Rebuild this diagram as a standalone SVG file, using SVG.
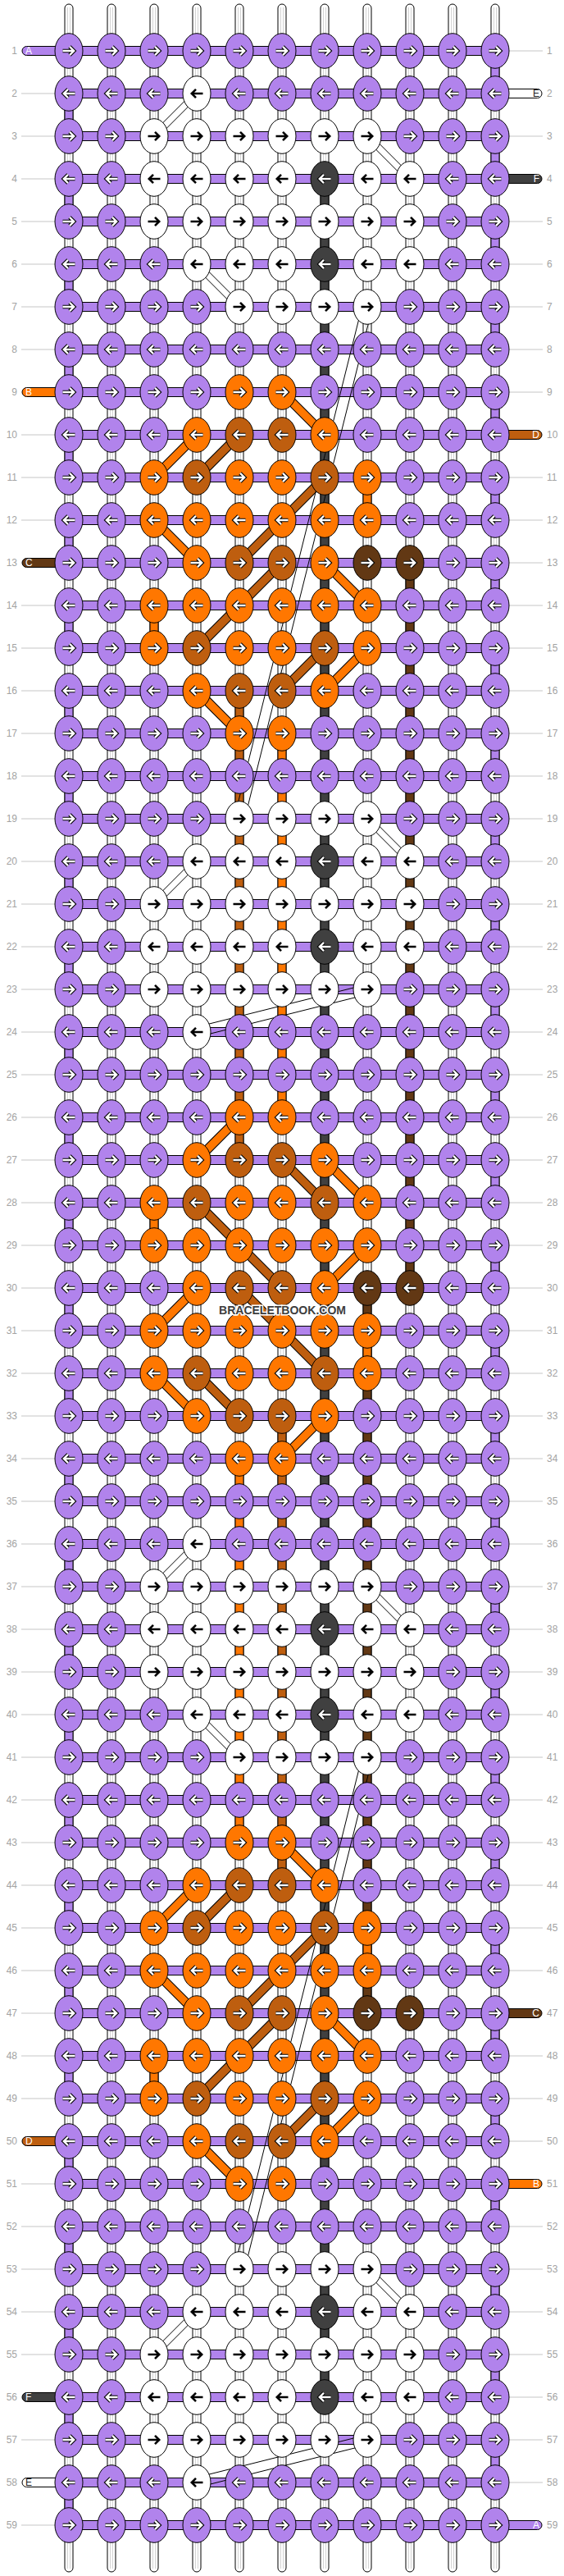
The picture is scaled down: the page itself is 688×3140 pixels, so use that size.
<svg xmlns="http://www.w3.org/2000/svg" width="688" height="3140" viewBox="0 0 688 3140">
<defs>
<style>
.n{font-family:"Liberation Sans",Arial,sans-serif;font-size:12px;fill:#a3a3a3}
.ne{text-anchor:end}
.gl{stroke:#c6c6c6;stroke-width:1;fill:none}
.tub{fill:#fff;stroke:#000;stroke-width:1}
.cl{stroke:#d2d2d2;stroke-width:1;fill:none}
.s{stroke:#000;stroke-width:1}
.P{fill:#b183ec}.W{fill:#fff}.G{fill:#404040}.O{fill:#ff7700}.B{fill:#be5e0f}.D{fill:#623814}
.lt{font-family:"Liberation Sans",Arial,sans-serif;font-size:12px;fill:#fff}
.ld{font-family:"Liberation Sans",Arial,sans-serif;font-size:12px;fill:#222}
.bk{fill:none;stroke:#000;stroke-width:11.5}
.dO{fill:none;stroke:#ff7700;stroke-width:9.5}
.dB{fill:none;stroke:#be5e0f;stroke-width:9.5}
.thin{fill:none;stroke:#000;stroke-width:1}
</style>
<path id="ar" d="M-7.5,0H6M1,-5.2L6.2,0L1,5.2" fill="none"/>
<g id="awr"><use href="#ar" stroke="#000" stroke-width="4.6"/><use href="#ar" stroke="#fff" stroke-width="2.4"/></g>
<g id="awl"><use href="#awr" transform="scale(-1,1)"/></g>
<g id="abr"><use href="#ar" stroke="#000" stroke-width="2.6"/></g>
<g id="abl"><use href="#abr" transform="scale(-1,1)"/></g>
<ellipse id="el" rx="17" ry="21.3"/>
<g id="Pr"><use href="#el" class="P s"/><use href="#awr"/></g>
<g id="Pl"><use href="#el" class="P s"/><use href="#awl"/></g>
<g id="Wr"><use href="#el" class="W s"/><use href="#abr"/></g>
<g id="Wl"><use href="#el" class="W s"/><use href="#abl"/></g>
<g id="Gl"><use href="#el" class="G s"/><use href="#awl"/></g>
<g id="Or"><use href="#el" class="O s"/><use href="#awr"/></g>
<g id="Ol"><use href="#el" class="O s"/><use href="#awl"/></g>
<g id="Br"><use href="#el" class="B s"/><use href="#awr"/></g>
<g id="Bl"><use href="#el" class="B s"/><use href="#awl"/></g>
<g id="Dr"><use href="#el" class="D s"/><use href="#awr"/></g>
<g id="Dl"><use href="#el" class="D s"/><use href="#awl"/></g>
</defs>
<rect width="688" height="3140" fill="#fff"/>
<g id="labels">
<path class="gl" d="M26,114H67M26,166H67M26,218H67M26,270H67M26,322H67M26,374H67M26,426H67M26,530H67M26,582H67M26,634H67M26,738H67M26,790H67M26,842H67M26,894H67M26,946H67M26,998H67M26,1050H67M26,1102H67M26,1154H67M26,1206H67M26,1258H67M26,1310H67M26,1362H67M26,1414H67M26,1466H67M26,1518H67M26,1570H67M26,1622H67M26,1674H67M26,1726H67M26,1778H67M26,1830H67M26,1882H67M26,1934H67M26,1986H67M26,2038H67M26,2090H67M26,2142H67M26,2194H67M26,2246H67M26,2298H67M26,2350H67M26,2402H67M26,2454H67M26,2506H67M26,2558H67M26,2662H67M26,2714H67M26,2766H67M26,2818H67M26,2870H67M26,2974H67M26,3078H67"/>
<path class="gl" d="M621,62H662M621,166H662M621,270H662M621,322H662M621,374H662M621,426H662M621,478H662M621,582H662M621,634H662M621,686H662M621,738H662M621,790H662M621,842H662M621,894H662M621,946H662M621,998H662M621,1050H662M621,1102H662M621,1154H662M621,1206H662M621,1258H662M621,1310H662M621,1362H662M621,1414H662M621,1466H662M621,1518H662M621,1570H662M621,1622H662M621,1674H662M621,1726H662M621,1778H662M621,1830H662M621,1882H662M621,1934H662M621,1986H662M621,2038H662M621,2090H662M621,2142H662M621,2194H662M621,2246H662M621,2298H662M621,2350H662M621,2402H662M621,2506H662M621,2558H662M621,2610H662M621,2714H662M621,2766H662M621,2818H662M621,2870H662M621,2922H662M621,2974H662M621,3026H662"/>
<g class="n ne">
<text x="21" y="66">1</text><text x="21" y="118">2</text><text x="21" y="170">3</text><text x="21" y="222">4</text><text x="21" y="274">5</text><text x="21" y="326">6</text><text x="21" y="378">7</text><text x="21" y="430">8</text><text x="21" y="482">9</text><text x="21" y="534">10</text><text x="21" y="586">11</text><text x="21" y="638">12</text><text x="21" y="690">13</text><text x="21" y="742">14</text><text x="21" y="794">15</text><text x="21" y="846">16</text><text x="21" y="898">17</text><text x="21" y="950">18</text><text x="21" y="1002">19</text><text x="21" y="1054">20</text><text x="21" y="1106">21</text><text x="21" y="1158">22</text><text x="21" y="1210">23</text><text x="21" y="1262">24</text><text x="21" y="1314">25</text><text x="21" y="1366">26</text><text x="21" y="1418">27</text><text x="21" y="1470">28</text><text x="21" y="1522">29</text><text x="21" y="1574">30</text><text x="21" y="1626">31</text><text x="21" y="1678">32</text><text x="21" y="1730">33</text><text x="21" y="1782">34</text><text x="21" y="1834">35</text><text x="21" y="1886">36</text><text x="21" y="1938">37</text><text x="21" y="1990">38</text><text x="21" y="2042">39</text><text x="21" y="2094">40</text><text x="21" y="2146">41</text><text x="21" y="2198">42</text><text x="21" y="2250">43</text><text x="21" y="2302">44</text><text x="21" y="2354">45</text><text x="21" y="2406">46</text><text x="21" y="2458">47</text><text x="21" y="2510">48</text><text x="21" y="2562">49</text><text x="21" y="2614">50</text><text x="21" y="2666">51</text><text x="21" y="2718">52</text><text x="21" y="2770">53</text><text x="21" y="2822">54</text><text x="21" y="2874">55</text><text x="21" y="2926">56</text><text x="21" y="2978">57</text><text x="21" y="3030">58</text><text x="21" y="3082">59</text>
</g>
<g class="n">
<text x="667" y="66">1</text><text x="667" y="118">2</text><text x="667" y="170">3</text><text x="667" y="222">4</text><text x="667" y="274">5</text><text x="667" y="326">6</text><text x="667" y="378">7</text><text x="667" y="430">8</text><text x="667" y="482">9</text><text x="667" y="534">10</text><text x="667" y="586">11</text><text x="667" y="638">12</text><text x="667" y="690">13</text><text x="667" y="742">14</text><text x="667" y="794">15</text><text x="667" y="846">16</text><text x="667" y="898">17</text><text x="667" y="950">18</text><text x="667" y="1002">19</text><text x="667" y="1054">20</text><text x="667" y="1106">21</text><text x="667" y="1158">22</text><text x="667" y="1210">23</text><text x="667" y="1262">24</text><text x="667" y="1314">25</text><text x="667" y="1366">26</text><text x="667" y="1418">27</text><text x="667" y="1470">28</text><text x="667" y="1522">29</text><text x="667" y="1574">30</text><text x="667" y="1626">31</text><text x="667" y="1678">32</text><text x="667" y="1730">33</text><text x="667" y="1782">34</text><text x="667" y="1834">35</text><text x="667" y="1886">36</text><text x="667" y="1938">37</text><text x="667" y="1990">38</text><text x="667" y="2042">39</text><text x="667" y="2094">40</text><text x="667" y="2146">41</text><text x="667" y="2198">42</text><text x="667" y="2250">43</text><text x="667" y="2302">44</text><text x="667" y="2354">45</text><text x="667" y="2406">46</text><text x="667" y="2458">47</text><text x="667" y="2510">48</text><text x="667" y="2562">49</text><text x="667" y="2614">50</text><text x="667" y="2666">51</text><text x="667" y="2718">52</text><text x="667" y="2770">53</text><text x="667" y="2822">54</text><text x="667" y="2874">55</text><text x="667" y="2926">56</text><text x="667" y="2978">57</text><text x="667" y="3030">58</text><text x="667" y="3082">59</text>
</g>
</g>
<g id="connectors">
<g id="warps">
<rect class="tub" x="79" y="5" width="10" height="3130" rx="5"/><rect class="tub" x="131" y="5" width="10" height="3130" rx="5"/><rect class="tub" x="183" y="5" width="10" height="3130" rx="5"/><rect class="tub" x="235" y="5" width="10" height="3130" rx="5"/><rect class="tub" x="287" y="5" width="10" height="3130" rx="5"/><rect class="tub" x="339" y="5" width="10" height="3130" rx="5"/><rect class="tub" x="391" y="5" width="10" height="3130" rx="5"/><rect class="tub" x="443" y="5" width="10" height="3130" rx="5"/><rect class="tub" x="495" y="5" width="10" height="3130" rx="5"/><rect class="tub" x="547" y="5" width="10" height="3130" rx="5"/><rect class="tub" x="599" y="5" width="10" height="3130" rx="5"/>
<path class="cl" d="M82.5,9V3131M85.5,9V3131M134.5,9V3131M137.5,9V3131M186.5,9V3131M189.5,9V3131M238.5,9V3131M241.5,9V3131M290.5,9V3131M293.5,9V3131M342.5,9V3131M345.5,9V3131M394.5,9V3131M397.5,9V3131M446.5,9V3131M449.5,9V3131M498.5,9V3131M501.5,9V3131M550.5,9V3131M553.5,9V3131M602.5,9V3131M605.5,9V3131"/>
</g>
<g id="vcolored" class="s">
<path class="P" d="M79,114h10v52h-10zM79,218h10v52h-10zM79,322h10v52h-10zM79,426h10v52h-10zM79,530h10v52h-10zM79,634h10v52h-10zM79,738h10v52h-10zM79,842h10v52h-10zM79,946h10v52h-10zM79,1050h10v52h-10zM79,1154h10v52h-10zM79,1258h10v52h-10zM79,1362h10v52h-10zM79,1466h10v52h-10zM79,1570h10v52h-10zM79,1674h10v52h-10zM79,1778h10v52h-10zM79,1882h10v52h-10zM79,1986h10v52h-10zM79,2090h10v52h-10zM79,2194h10v52h-10zM79,2298h10v52h-10zM79,2402h10v52h-10zM79,2506h10v52h-10zM79,2610h10v52h-10zM79,2714h10v52h-10zM79,2818h10v52h-10zM79,2922h10v52h-10zM79,3026h10v52h-10z"/>
<path class="P" d="M599,62h10v52h-10zM599,166h10v52h-10zM599,270h10v52h-10zM599,374h10v52h-10zM599,478h10v52h-10zM599,582h10v52h-10zM599,686h10v52h-10zM599,790h10v52h-10zM599,894h10v52h-10zM599,998h10v52h-10zM599,1102h10v52h-10zM599,1206h10v52h-10zM599,1310h10v52h-10zM599,1414h10v52h-10zM599,1518h10v52h-10zM599,1622h10v52h-10zM599,1726h10v52h-10zM599,1830h10v52h-10zM599,1934h10v52h-10zM599,2038h10v52h-10zM599,2142h10v52h-10zM599,2246h10v52h-10zM599,2350h10v52h-10zM599,2454h10v52h-10zM599,2558h10v52h-10zM599,2662h10v52h-10zM599,2766h10v52h-10zM599,2870h10v52h-10zM599,2974h10v52h-10z"/>
<rect class="G" x="391" y="218" width="10" height="2704"/>
<rect class="D" x="495" y="686" width="10" height="884"/>
<rect class="D" x="443" y="1570" width="10" height="884"/>
<rect class="B" x="287" y="842" width="10" height="572"/>
<rect class="O" x="339" y="894" width="10" height="468"/>
<rect class="B" x="339" y="1726" width="10" height="572"/>
<rect class="O" x="287" y="1778" width="10" height="468"/>
<path class="O" d="M443,582h10v52h-10zM443,1622h10v52h-10zM443,2350h10v52h-10zM183,738h10v52h-10zM183,1466h10v52h-10zM183,2506h10v52h-10z"/>
</g>
<g id="tabs" class="s">
<rect class="P" x="27" y="56.5" width="57" height="11" rx="5.5"/>
<rect class="O" x="27" y="472.5" width="57" height="11" rx="5.5"/>
<rect class="D" x="27" y="680.5" width="57" height="11" rx="5.5"/>
<rect class="B" x="27" y="2604.5" width="57" height="11" rx="5.5"/>
<rect class="G" x="27" y="2916.5" width="57" height="11" rx="5.5"/>
<rect class="W" x="27" y="3020.5" width="57" height="11" rx="5.5"/>
<rect class="W" x="604" y="108.5" width="57" height="11" rx="5.5"/>
<rect class="G" x="604" y="212.5" width="57" height="11" rx="5.5"/>
<rect class="B" x="604" y="524.5" width="57" height="11" rx="5.5"/>
<rect class="D" x="604" y="2448.5" width="57" height="11" rx="5.5"/>
<rect class="O" x="604" y="2656.5" width="57" height="11" rx="5.5"/>
<rect class="P" x="604" y="3072.5" width="57" height="11" rx="5.5"/>
</g>
<path id="wefts" class="P s" d="M84,56.5h520v11h-520zM84,108.5h520v11h-520zM84,160.5h520v11h-520zM84,212.5h520v11h-520zM84,264.5h520v11h-520zM84,316.5h520v11h-520zM84,368.5h520v11h-520zM84,420.5h520v11h-520zM84,472.5h520v11h-520zM84,524.5h520v11h-520zM84,576.5h520v11h-520zM84,628.5h520v11h-520zM84,680.5h520v11h-520zM84,732.5h520v11h-520zM84,784.5h520v11h-520zM84,836.5h520v11h-520zM84,888.5h520v11h-520zM84,940.5h520v11h-520zM84,992.5h520v11h-520zM84,1044.5h520v11h-520zM84,1096.5h520v11h-520zM84,1148.5h520v11h-520zM84,1200.5h520v11h-520zM84,1252.5h520v11h-520zM84,1304.5h520v11h-520zM84,1356.5h520v11h-520zM84,1408.5h520v11h-520zM84,1460.5h520v11h-520zM84,1512.5h520v11h-520zM84,1564.5h520v11h-520zM84,1616.5h520v11h-520zM84,1668.5h520v11h-520zM84,1720.5h520v11h-520zM84,1772.5h520v11h-520zM84,1824.5h520v11h-520zM84,1876.5h520v11h-520zM84,1928.5h520v11h-520zM84,1980.5h520v11h-520zM84,2032.5h520v11h-520zM84,2084.5h520v11h-520zM84,2136.5h520v11h-520zM84,2188.5h520v11h-520zM84,2240.5h520v11h-520zM84,2292.5h520v11h-520zM84,2344.5h520v11h-520zM84,2396.5h520v11h-520zM84,2448.5h520v11h-520zM84,2500.5h520v11h-520zM84,2552.5h520v11h-520zM84,2604.5h520v11h-520zM84,2656.5h520v11h-520zM84,2708.5h520v11h-520zM84,2760.5h520v11h-520zM84,2812.5h520v11h-520zM84,2864.5h520v11h-520zM84,2916.5h520v11h-520zM84,2968.5h520v11h-520zM84,3020.5h520v11h-520zM84,3072.5h520v11h-520z"/>
<g id="diagonals">
<path class="bk" d="M344,478L396,530M240,530L188,582M188,634L240,686M396,686L448,738M448,790L396,842M240,842L292,894M344,2246L396,2298M240,2298L188,2350M188,2402L240,2454M396,2454L448,2506M448,2558L396,2610M240,2610L292,2662M292,1362L240,1414M396,1414L448,1466M448,1518L396,1570M240,1570L188,1622M188,1674L240,1726M396,1726L344,1778"/>
<path class="dO" d="M344,478L396,530M240,530L188,582M188,634L240,686M396,686L448,738M448,790L396,842M240,842L292,894M344,2246L396,2298M240,2298L188,2350M188,2402L240,2454M396,2454L448,2506M448,2558L396,2610M240,2610L292,2662M292,1362L240,1414M396,1414L448,1466M448,1518L396,1570M240,1570L188,1622M188,1674L240,1726M396,1726L344,1778"/>
<path class="bk" d="M292,530L240,582M396,582L292,686M344,686L240,790M396,790L344,842M292,2298L240,2350M396,2350L292,2454M344,2454L240,2558M396,2558L344,2610M344,1414L396,1466M240,1466L344,1570M292,1570L396,1674M240,1674L292,1726"/>
<path class="dB" d="M292,530L240,582M396,582L292,686M344,686L240,790M396,790L344,842M292,2298L240,2350M396,2350L292,2454M344,2454L240,2558M396,2558L344,2610M344,1414L396,1466M240,1466L344,1570M292,1570L396,1674M240,1674L292,1726"/>
<path class="thin" d="M242.8,116.8L190.8,168.8M237.2,111.2L185.2,163.2M242.8,1052.8L190.8,1104.8M237.2,1047.2L185.2,1099.2M242.8,1884.8L190.8,1936.8M237.2,1879.2L185.2,1931.2M242.8,2820.8L190.8,2872.8M237.2,2815.2L185.2,2867.2M450.8,163.2L502.8,215.2M445.2,168.8L497.2,220.8M242.8,319.2L294.8,371.2M237.2,324.8L289.2,376.8M450.8,995.2L502.8,1047.2M445.2,1000.8L497.2,1052.8M450.8,1931.2L502.8,1983.2M445.2,1936.8L497.2,1988.8M242.8,2087.2L294.8,2139.2M237.2,2092.8L289.2,2144.8M450.8,2763.2L502.8,2815.2M445.2,2768.8L497.2,2820.8"/>
<path class="thin" d="M454.1,375.5L298.1,999.5M441.9,372.5L285.9,996.5M454.1,2143.5L298.1,2767.5M441.9,2140.5L285.9,2764.5M449.5,1211.8L241.5,1263.8M446.5,1200.2L238.5,1252.2M449.5,2979.8L241.5,3031.8M446.5,2968.2L238.5,3020.2"/>
</g>
</g>
<g id="tablabels">
<text class="lt" x="31" y="66.3">A</text>
<text class="lt" x="31" y="482.3">B</text>
<text class="lt" x="31" y="690.3">C</text>
<text class="lt" x="31" y="2614.3">D</text>
<text class="lt" x="31" y="2926.3">F</text>
<text class="ld" x="31" y="3030.3">E</text>
<text class="ld" x="658" y="118.3" text-anchor="end">E</text>
<text class="lt" x="658" y="222.3" text-anchor="end">F</text>
<text class="lt" x="658" y="534.3" text-anchor="end">D</text>
<text class="lt" x="658" y="2458.3" text-anchor="end">C</text>
<text class="lt" x="658" y="2666.3" text-anchor="end">B</text>
<text class="lt" x="658" y="3082.3" text-anchor="end">A</text>
</g>
<g id="knots">
<g id="row1" transform="translate(0,62)"><use id="k1_0" href="#Pr" x="84"/><use id="k1_1" href="#Pr" x="136"/><use id="k1_2" href="#Pr" x="188"/><use id="k1_3" href="#Pr" x="240"/><use id="k1_4" href="#Pr" x="292"/><use id="k1_5" href="#Pr" x="344"/><use id="k1_6" href="#Pr" x="396"/><use id="k1_7" href="#Pr" x="448"/><use id="k1_8" href="#Pr" x="500"/><use id="k1_9" href="#Pr" x="552"/><use id="k1_10" href="#Pr" x="604"/></g>
<g id="row2" transform="translate(0,114)"><use id="k2_0" href="#Pl" x="84"/><use id="k2_1" href="#Pl" x="136"/><use id="k2_2" href="#Pl" x="188"/><use id="k2_3" href="#Wl" x="240"/><use id="k2_4" href="#Pl" x="292"/><use id="k2_5" href="#Pl" x="344"/><use id="k2_6" href="#Pl" x="396"/><use id="k2_7" href="#Pl" x="448"/><use id="k2_8" href="#Pl" x="500"/><use id="k2_9" href="#Pl" x="552"/><use id="k2_10" href="#Pl" x="604"/></g>
<g id="row3" transform="translate(0,166)"><use id="k3_0" href="#Pr" x="84"/><use id="k3_1" href="#Pr" x="136"/><use id="k3_2" href="#Wr" x="188"/><use id="k3_3" href="#Wr" x="240"/><use id="k3_4" href="#Wr" x="292"/><use id="k3_5" href="#Wr" x="344"/><use id="k3_6" href="#Wr" x="396"/><use id="k3_7" href="#Wr" x="448"/><use id="k3_8" href="#Pr" x="500"/><use id="k3_9" href="#Pr" x="552"/><use id="k3_10" href="#Pr" x="604"/></g>
<g id="row4" transform="translate(0,218)"><use id="k4_0" href="#Pl" x="84"/><use id="k4_1" href="#Pl" x="136"/><use id="k4_2" href="#Wl" x="188"/><use id="k4_3" href="#Wl" x="240"/><use id="k4_4" href="#Wl" x="292"/><use id="k4_5" href="#Wl" x="344"/><use id="k4_6" href="#Gl" x="396"/><use id="k4_7" href="#Wl" x="448"/><use id="k4_8" href="#Wl" x="500"/><use id="k4_9" href="#Pl" x="552"/><use id="k4_10" href="#Pl" x="604"/></g>
<g id="row5" transform="translate(0,270)"><use id="k5_0" href="#Pr" x="84"/><use id="k5_1" href="#Pr" x="136"/><use id="k5_2" href="#Wr" x="188"/><use id="k5_3" href="#Wr" x="240"/><use id="k5_4" href="#Wr" x="292"/><use id="k5_5" href="#Wr" x="344"/><use id="k5_6" href="#Wr" x="396"/><use id="k5_7" href="#Wr" x="448"/><use id="k5_8" href="#Wr" x="500"/><use id="k5_9" href="#Pr" x="552"/><use id="k5_10" href="#Pr" x="604"/></g>
<g id="row6" transform="translate(0,322)"><use id="k6_0" href="#Pl" x="84"/><use id="k6_1" href="#Pl" x="136"/><use id="k6_2" href="#Pl" x="188"/><use id="k6_3" href="#Wl" x="240"/><use id="k6_4" href="#Wl" x="292"/><use id="k6_5" href="#Wl" x="344"/><use id="k6_6" href="#Gl" x="396"/><use id="k6_7" href="#Wl" x="448"/><use id="k6_8" href="#Wl" x="500"/><use id="k6_9" href="#Pl" x="552"/><use id="k6_10" href="#Pl" x="604"/></g>
<g id="row7" transform="translate(0,374)"><use id="k7_0" href="#Pr" x="84"/><use id="k7_1" href="#Pr" x="136"/><use id="k7_2" href="#Pr" x="188"/><use id="k7_3" href="#Pr" x="240"/><use id="k7_4" href="#Wr" x="292"/><use id="k7_5" href="#Wr" x="344"/><use id="k7_6" href="#Wr" x="396"/><use id="k7_7" href="#Wr" x="448"/><use id="k7_8" href="#Pr" x="500"/><use id="k7_9" href="#Pr" x="552"/><use id="k7_10" href="#Pr" x="604"/></g>
<g id="row8" transform="translate(0,426)"><use id="k8_0" href="#Pl" x="84"/><use id="k8_1" href="#Pl" x="136"/><use id="k8_2" href="#Pl" x="188"/><use id="k8_3" href="#Pl" x="240"/><use id="k8_4" href="#Pl" x="292"/><use id="k8_5" href="#Pl" x="344"/><use id="k8_6" href="#Pl" x="396"/><use id="k8_7" href="#Pl" x="448"/><use id="k8_8" href="#Pl" x="500"/><use id="k8_9" href="#Pl" x="552"/><use id="k8_10" href="#Pl" x="604"/></g>
<g id="row9" transform="translate(0,478)"><use id="k9_0" href="#Pr" x="84"/><use id="k9_1" href="#Pr" x="136"/><use id="k9_2" href="#Pr" x="188"/><use id="k9_3" href="#Pr" x="240"/><use id="k9_4" href="#Or" x="292"/><use id="k9_5" href="#Or" x="344"/><use id="k9_6" href="#Pr" x="396"/><use id="k9_7" href="#Pr" x="448"/><use id="k9_8" href="#Pr" x="500"/><use id="k9_9" href="#Pr" x="552"/><use id="k9_10" href="#Pr" x="604"/></g>
<g id="row10" transform="translate(0,530)"><use id="k10_0" href="#Pl" x="84"/><use id="k10_1" href="#Pl" x="136"/><use id="k10_2" href="#Pl" x="188"/><use id="k10_3" href="#Ol" x="240"/><use id="k10_4" href="#Bl" x="292"/><use id="k10_5" href="#Bl" x="344"/><use id="k10_6" href="#Ol" x="396"/><use id="k10_7" href="#Pl" x="448"/><use id="k10_8" href="#Pl" x="500"/><use id="k10_9" href="#Pl" x="552"/><use id="k10_10" href="#Pl" x="604"/></g>
<g id="row11" transform="translate(0,582)"><use id="k11_0" href="#Pr" x="84"/><use id="k11_1" href="#Pr" x="136"/><use id="k11_2" href="#Or" x="188"/><use id="k11_3" href="#Br" x="240"/><use id="k11_4" href="#Or" x="292"/><use id="k11_5" href="#Or" x="344"/><use id="k11_6" href="#Br" x="396"/><use id="k11_7" href="#Or" x="448"/><use id="k11_8" href="#Pr" x="500"/><use id="k11_9" href="#Pr" x="552"/><use id="k11_10" href="#Pr" x="604"/></g>
<g id="row12" transform="translate(0,634)"><use id="k12_0" href="#Pl" x="84"/><use id="k12_1" href="#Pl" x="136"/><use id="k12_2" href="#Ol" x="188"/><use id="k12_3" href="#Ol" x="240"/><use id="k12_4" href="#Ol" x="292"/><use id="k12_5" href="#Ol" x="344"/><use id="k12_6" href="#Ol" x="396"/><use id="k12_7" href="#Ol" x="448"/><use id="k12_8" href="#Pl" x="500"/><use id="k12_9" href="#Pl" x="552"/><use id="k12_10" href="#Pl" x="604"/></g>
<g id="row13" transform="translate(0,686)"><use id="k13_0" href="#Pr" x="84"/><use id="k13_1" href="#Pr" x="136"/><use id="k13_2" href="#Pr" x="188"/><use id="k13_3" href="#Or" x="240"/><use id="k13_4" href="#Br" x="292"/><use id="k13_5" href="#Br" x="344"/><use id="k13_6" href="#Or" x="396"/><use id="k13_7" href="#Dr" x="448"/><use id="k13_8" href="#Dr" x="500"/><use id="k13_9" href="#Pr" x="552"/><use id="k13_10" href="#Pr" x="604"/></g>
<g id="row14" transform="translate(0,738)"><use id="k14_0" href="#Pl" x="84"/><use id="k14_1" href="#Pl" x="136"/><use id="k14_2" href="#Ol" x="188"/><use id="k14_3" href="#Ol" x="240"/><use id="k14_4" href="#Ol" x="292"/><use id="k14_5" href="#Ol" x="344"/><use id="k14_6" href="#Ol" x="396"/><use id="k14_7" href="#Ol" x="448"/><use id="k14_8" href="#Pl" x="500"/><use id="k14_9" href="#Pl" x="552"/><use id="k14_10" href="#Pl" x="604"/></g>
<g id="row15" transform="translate(0,790)"><use id="k15_0" href="#Pr" x="84"/><use id="k15_1" href="#Pr" x="136"/><use id="k15_2" href="#Or" x="188"/><use id="k15_3" href="#Br" x="240"/><use id="k15_4" href="#Or" x="292"/><use id="k15_5" href="#Or" x="344"/><use id="k15_6" href="#Br" x="396"/><use id="k15_7" href="#Or" x="448"/><use id="k15_8" href="#Pr" x="500"/><use id="k15_9" href="#Pr" x="552"/><use id="k15_10" href="#Pr" x="604"/></g>
<g id="row16" transform="translate(0,842)"><use id="k16_0" href="#Pl" x="84"/><use id="k16_1" href="#Pl" x="136"/><use id="k16_2" href="#Pl" x="188"/><use id="k16_3" href="#Ol" x="240"/><use id="k16_4" href="#Bl" x="292"/><use id="k16_5" href="#Bl" x="344"/><use id="k16_6" href="#Ol" x="396"/><use id="k16_7" href="#Pl" x="448"/><use id="k16_8" href="#Pl" x="500"/><use id="k16_9" href="#Pl" x="552"/><use id="k16_10" href="#Pl" x="604"/></g>
<g id="row17" transform="translate(0,894)"><use id="k17_0" href="#Pr" x="84"/><use id="k17_1" href="#Pr" x="136"/><use id="k17_2" href="#Pr" x="188"/><use id="k17_3" href="#Pr" x="240"/><use id="k17_4" href="#Or" x="292"/><use id="k17_5" href="#Or" x="344"/><use id="k17_6" href="#Pr" x="396"/><use id="k17_7" href="#Pr" x="448"/><use id="k17_8" href="#Pr" x="500"/><use id="k17_9" href="#Pr" x="552"/><use id="k17_10" href="#Pr" x="604"/></g>
<g id="row18" transform="translate(0,946)"><use id="k18_0" href="#Pl" x="84"/><use id="k18_1" href="#Pl" x="136"/><use id="k18_2" href="#Pl" x="188"/><use id="k18_3" href="#Pl" x="240"/><use id="k18_4" href="#Pl" x="292"/><use id="k18_5" href="#Pl" x="344"/><use id="k18_6" href="#Pl" x="396"/><use id="k18_7" href="#Pl" x="448"/><use id="k18_8" href="#Pl" x="500"/><use id="k18_9" href="#Pl" x="552"/><use id="k18_10" href="#Pl" x="604"/></g>
<g id="row19" transform="translate(0,998)"><use id="k19_0" href="#Pr" x="84"/><use id="k19_1" href="#Pr" x="136"/><use id="k19_2" href="#Pr" x="188"/><use id="k19_3" href="#Pr" x="240"/><use id="k19_4" href="#Wr" x="292"/><use id="k19_5" href="#Wr" x="344"/><use id="k19_6" href="#Wr" x="396"/><use id="k19_7" href="#Wr" x="448"/><use id="k19_8" href="#Pr" x="500"/><use id="k19_9" href="#Pr" x="552"/><use id="k19_10" href="#Pr" x="604"/></g>
<g id="row20" transform="translate(0,1050)"><use id="k20_0" href="#Pl" x="84"/><use id="k20_1" href="#Pl" x="136"/><use id="k20_2" href="#Pl" x="188"/><use id="k20_3" href="#Wl" x="240"/><use id="k20_4" href="#Wl" x="292"/><use id="k20_5" href="#Wl" x="344"/><use id="k20_6" href="#Gl" x="396"/><use id="k20_7" href="#Wl" x="448"/><use id="k20_8" href="#Wl" x="500"/><use id="k20_9" href="#Pl" x="552"/><use id="k20_10" href="#Pl" x="604"/></g>
<g id="row21" transform="translate(0,1102)"><use id="k21_0" href="#Pr" x="84"/><use id="k21_1" href="#Pr" x="136"/><use id="k21_2" href="#Wr" x="188"/><use id="k21_3" href="#Wr" x="240"/><use id="k21_4" href="#Wr" x="292"/><use id="k21_5" href="#Wr" x="344"/><use id="k21_6" href="#Wr" x="396"/><use id="k21_7" href="#Wr" x="448"/><use id="k21_8" href="#Wr" x="500"/><use id="k21_9" href="#Pr" x="552"/><use id="k21_10" href="#Pr" x="604"/></g>
<g id="row22" transform="translate(0,1154)"><use id="k22_0" href="#Pl" x="84"/><use id="k22_1" href="#Pl" x="136"/><use id="k22_2" href="#Wl" x="188"/><use id="k22_3" href="#Wl" x="240"/><use id="k22_4" href="#Wl" x="292"/><use id="k22_5" href="#Wl" x="344"/><use id="k22_6" href="#Gl" x="396"/><use id="k22_7" href="#Wl" x="448"/><use id="k22_8" href="#Wl" x="500"/><use id="k22_9" href="#Pl" x="552"/><use id="k22_10" href="#Pl" x="604"/></g>
<g id="row23" transform="translate(0,1206)"><use id="k23_0" href="#Pr" x="84"/><use id="k23_1" href="#Pr" x="136"/><use id="k23_2" href="#Wr" x="188"/><use id="k23_3" href="#Wr" x="240"/><use id="k23_4" href="#Wr" x="292"/><use id="k23_5" href="#Wr" x="344"/><use id="k23_6" href="#Wr" x="396"/><use id="k23_7" href="#Wr" x="448"/><use id="k23_8" href="#Pr" x="500"/><use id="k23_9" href="#Pr" x="552"/><use id="k23_10" href="#Pr" x="604"/></g>
<g id="row24" transform="translate(0,1258)"><use id="k24_0" href="#Pl" x="84"/><use id="k24_1" href="#Pl" x="136"/><use id="k24_2" href="#Pl" x="188"/><use id="k24_3" href="#Wl" x="240"/><use id="k24_4" href="#Pl" x="292"/><use id="k24_5" href="#Pl" x="344"/><use id="k24_6" href="#Pl" x="396"/><use id="k24_7" href="#Pl" x="448"/><use id="k24_8" href="#Pl" x="500"/><use id="k24_9" href="#Pl" x="552"/><use id="k24_10" href="#Pl" x="604"/></g>
<g id="row25" transform="translate(0,1310)"><use id="k25_0" href="#Pr" x="84"/><use id="k25_1" href="#Pr" x="136"/><use id="k25_2" href="#Pr" x="188"/><use id="k25_3" href="#Pr" x="240"/><use id="k25_4" href="#Pr" x="292"/><use id="k25_5" href="#Pr" x="344"/><use id="k25_6" href="#Pr" x="396"/><use id="k25_7" href="#Pr" x="448"/><use id="k25_8" href="#Pr" x="500"/><use id="k25_9" href="#Pr" x="552"/><use id="k25_10" href="#Pr" x="604"/></g>
<g id="row26" transform="translate(0,1362)"><use id="k26_0" href="#Pl" x="84"/><use id="k26_1" href="#Pl" x="136"/><use id="k26_2" href="#Pl" x="188"/><use id="k26_3" href="#Pl" x="240"/><use id="k26_4" href="#Ol" x="292"/><use id="k26_5" href="#Ol" x="344"/><use id="k26_6" href="#Pl" x="396"/><use id="k26_7" href="#Pl" x="448"/><use id="k26_8" href="#Pl" x="500"/><use id="k26_9" href="#Pl" x="552"/><use id="k26_10" href="#Pl" x="604"/></g>
<g id="row27" transform="translate(0,1414)"><use id="k27_0" href="#Pr" x="84"/><use id="k27_1" href="#Pr" x="136"/><use id="k27_2" href="#Pr" x="188"/><use id="k27_3" href="#Or" x="240"/><use id="k27_4" href="#Br" x="292"/><use id="k27_5" href="#Br" x="344"/><use id="k27_6" href="#Or" x="396"/><use id="k27_7" href="#Pr" x="448"/><use id="k27_8" href="#Pr" x="500"/><use id="k27_9" href="#Pr" x="552"/><use id="k27_10" href="#Pr" x="604"/></g>
<g id="row28" transform="translate(0,1466)"><use id="k28_0" href="#Pl" x="84"/><use id="k28_1" href="#Pl" x="136"/><use id="k28_2" href="#Ol" x="188"/><use id="k28_3" href="#Bl" x="240"/><use id="k28_4" href="#Ol" x="292"/><use id="k28_5" href="#Ol" x="344"/><use id="k28_6" href="#Bl" x="396"/><use id="k28_7" href="#Ol" x="448"/><use id="k28_8" href="#Pl" x="500"/><use id="k28_9" href="#Pl" x="552"/><use id="k28_10" href="#Pl" x="604"/></g>
<g id="row29" transform="translate(0,1518)"><use id="k29_0" href="#Pr" x="84"/><use id="k29_1" href="#Pr" x="136"/><use id="k29_2" href="#Or" x="188"/><use id="k29_3" href="#Or" x="240"/><use id="k29_4" href="#Or" x="292"/><use id="k29_5" href="#Or" x="344"/><use id="k29_6" href="#Or" x="396"/><use id="k29_7" href="#Or" x="448"/><use id="k29_8" href="#Pr" x="500"/><use id="k29_9" href="#Pr" x="552"/><use id="k29_10" href="#Pr" x="604"/></g>
<g id="row30" transform="translate(0,1570)"><use id="k30_0" href="#Pl" x="84"/><use id="k30_1" href="#Pl" x="136"/><use id="k30_2" href="#Pl" x="188"/><use id="k30_3" href="#Ol" x="240"/><use id="k30_4" href="#Bl" x="292"/><use id="k30_5" href="#Bl" x="344"/><use id="k30_6" href="#Ol" x="396"/><use id="k30_7" href="#Dl" x="448"/><use id="k30_8" href="#Dl" x="500"/><use id="k30_9" href="#Pl" x="552"/><use id="k30_10" href="#Pl" x="604"/></g>
<g id="row31" transform="translate(0,1622)"><use id="k31_0" href="#Pr" x="84"/><use id="k31_1" href="#Pr" x="136"/><use id="k31_2" href="#Or" x="188"/><use id="k31_3" href="#Or" x="240"/><use id="k31_4" href="#Or" x="292"/><use id="k31_5" href="#Or" x="344"/><use id="k31_6" href="#Or" x="396"/><use id="k31_7" href="#Or" x="448"/><use id="k31_8" href="#Pr" x="500"/><use id="k31_9" href="#Pr" x="552"/><use id="k31_10" href="#Pr" x="604"/></g>
<g id="row32" transform="translate(0,1674)"><use id="k32_0" href="#Pl" x="84"/><use id="k32_1" href="#Pl" x="136"/><use id="k32_2" href="#Ol" x="188"/><use id="k32_3" href="#Bl" x="240"/><use id="k32_4" href="#Ol" x="292"/><use id="k32_5" href="#Ol" x="344"/><use id="k32_6" href="#Bl" x="396"/><use id="k32_7" href="#Ol" x="448"/><use id="k32_8" href="#Pl" x="500"/><use id="k32_9" href="#Pl" x="552"/><use id="k32_10" href="#Pl" x="604"/></g>
<g id="row33" transform="translate(0,1726)"><use id="k33_0" href="#Pr" x="84"/><use id="k33_1" href="#Pr" x="136"/><use id="k33_2" href="#Pr" x="188"/><use id="k33_3" href="#Or" x="240"/><use id="k33_4" href="#Br" x="292"/><use id="k33_5" href="#Br" x="344"/><use id="k33_6" href="#Or" x="396"/><use id="k33_7" href="#Pr" x="448"/><use id="k33_8" href="#Pr" x="500"/><use id="k33_9" href="#Pr" x="552"/><use id="k33_10" href="#Pr" x="604"/></g>
<g id="row34" transform="translate(0,1778)"><use id="k34_0" href="#Pl" x="84"/><use id="k34_1" href="#Pl" x="136"/><use id="k34_2" href="#Pl" x="188"/><use id="k34_3" href="#Pl" x="240"/><use id="k34_4" href="#Ol" x="292"/><use id="k34_5" href="#Ol" x="344"/><use id="k34_6" href="#Pl" x="396"/><use id="k34_7" href="#Pl" x="448"/><use id="k34_8" href="#Pl" x="500"/><use id="k34_9" href="#Pl" x="552"/><use id="k34_10" href="#Pl" x="604"/></g>
<g id="row35" transform="translate(0,1830)"><use id="k35_0" href="#Pr" x="84"/><use id="k35_1" href="#Pr" x="136"/><use id="k35_2" href="#Pr" x="188"/><use id="k35_3" href="#Pr" x="240"/><use id="k35_4" href="#Pr" x="292"/><use id="k35_5" href="#Pr" x="344"/><use id="k35_6" href="#Pr" x="396"/><use id="k35_7" href="#Pr" x="448"/><use id="k35_8" href="#Pr" x="500"/><use id="k35_9" href="#Pr" x="552"/><use id="k35_10" href="#Pr" x="604"/></g>
<g id="row36" transform="translate(0,1882)"><use id="k36_0" href="#Pl" x="84"/><use id="k36_1" href="#Pl" x="136"/><use id="k36_2" href="#Pl" x="188"/><use id="k36_3" href="#Wl" x="240"/><use id="k36_4" href="#Pl" x="292"/><use id="k36_5" href="#Pl" x="344"/><use id="k36_6" href="#Pl" x="396"/><use id="k36_7" href="#Pl" x="448"/><use id="k36_8" href="#Pl" x="500"/><use id="k36_9" href="#Pl" x="552"/><use id="k36_10" href="#Pl" x="604"/></g>
<g id="row37" transform="translate(0,1934)"><use id="k37_0" href="#Pr" x="84"/><use id="k37_1" href="#Pr" x="136"/><use id="k37_2" href="#Wr" x="188"/><use id="k37_3" href="#Wr" x="240"/><use id="k37_4" href="#Wr" x="292"/><use id="k37_5" href="#Wr" x="344"/><use id="k37_6" href="#Wr" x="396"/><use id="k37_7" href="#Wr" x="448"/><use id="k37_8" href="#Pr" x="500"/><use id="k37_9" href="#Pr" x="552"/><use id="k37_10" href="#Pr" x="604"/></g>
<g id="row38" transform="translate(0,1986)"><use id="k38_0" href="#Pl" x="84"/><use id="k38_1" href="#Pl" x="136"/><use id="k38_2" href="#Wl" x="188"/><use id="k38_3" href="#Wl" x="240"/><use id="k38_4" href="#Wl" x="292"/><use id="k38_5" href="#Wl" x="344"/><use id="k38_6" href="#Gl" x="396"/><use id="k38_7" href="#Wl" x="448"/><use id="k38_8" href="#Wl" x="500"/><use id="k38_9" href="#Pl" x="552"/><use id="k38_10" href="#Pl" x="604"/></g>
<g id="row39" transform="translate(0,2038)"><use id="k39_0" href="#Pr" x="84"/><use id="k39_1" href="#Pr" x="136"/><use id="k39_2" href="#Wr" x="188"/><use id="k39_3" href="#Wr" x="240"/><use id="k39_4" href="#Wr" x="292"/><use id="k39_5" href="#Wr" x="344"/><use id="k39_6" href="#Wr" x="396"/><use id="k39_7" href="#Wr" x="448"/><use id="k39_8" href="#Wr" x="500"/><use id="k39_9" href="#Pr" x="552"/><use id="k39_10" href="#Pr" x="604"/></g>
<g id="row40" transform="translate(0,2090)"><use id="k40_0" href="#Pl" x="84"/><use id="k40_1" href="#Pl" x="136"/><use id="k40_2" href="#Pl" x="188"/><use id="k40_3" href="#Wl" x="240"/><use id="k40_4" href="#Wl" x="292"/><use id="k40_5" href="#Wl" x="344"/><use id="k40_6" href="#Gl" x="396"/><use id="k40_7" href="#Wl" x="448"/><use id="k40_8" href="#Wl" x="500"/><use id="k40_9" href="#Pl" x="552"/><use id="k40_10" href="#Pl" x="604"/></g>
<g id="row41" transform="translate(0,2142)"><use id="k41_0" href="#Pr" x="84"/><use id="k41_1" href="#Pr" x="136"/><use id="k41_2" href="#Pr" x="188"/><use id="k41_3" href="#Pr" x="240"/><use id="k41_4" href="#Wr" x="292"/><use id="k41_5" href="#Wr" x="344"/><use id="k41_6" href="#Wr" x="396"/><use id="k41_7" href="#Wr" x="448"/><use id="k41_8" href="#Pr" x="500"/><use id="k41_9" href="#Pr" x="552"/><use id="k41_10" href="#Pr" x="604"/></g>
<g id="row42" transform="translate(0,2194)"><use id="k42_0" href="#Pl" x="84"/><use id="k42_1" href="#Pl" x="136"/><use id="k42_2" href="#Pl" x="188"/><use id="k42_3" href="#Pl" x="240"/><use id="k42_4" href="#Pl" x="292"/><use id="k42_5" href="#Pl" x="344"/><use id="k42_6" href="#Pl" x="396"/><use id="k42_7" href="#Pl" x="448"/><use id="k42_8" href="#Pl" x="500"/><use id="k42_9" href="#Pl" x="552"/><use id="k42_10" href="#Pl" x="604"/></g>
<g id="row43" transform="translate(0,2246)"><use id="k43_0" href="#Pr" x="84"/><use id="k43_1" href="#Pr" x="136"/><use id="k43_2" href="#Pr" x="188"/><use id="k43_3" href="#Pr" x="240"/><use id="k43_4" href="#Or" x="292"/><use id="k43_5" href="#Or" x="344"/><use id="k43_6" href="#Pr" x="396"/><use id="k43_7" href="#Pr" x="448"/><use id="k43_8" href="#Pr" x="500"/><use id="k43_9" href="#Pr" x="552"/><use id="k43_10" href="#Pr" x="604"/></g>
<g id="row44" transform="translate(0,2298)"><use id="k44_0" href="#Pl" x="84"/><use id="k44_1" href="#Pl" x="136"/><use id="k44_2" href="#Pl" x="188"/><use id="k44_3" href="#Ol" x="240"/><use id="k44_4" href="#Bl" x="292"/><use id="k44_5" href="#Bl" x="344"/><use id="k44_6" href="#Ol" x="396"/><use id="k44_7" href="#Pl" x="448"/><use id="k44_8" href="#Pl" x="500"/><use id="k44_9" href="#Pl" x="552"/><use id="k44_10" href="#Pl" x="604"/></g>
<g id="row45" transform="translate(0,2350)"><use id="k45_0" href="#Pr" x="84"/><use id="k45_1" href="#Pr" x="136"/><use id="k45_2" href="#Or" x="188"/><use id="k45_3" href="#Br" x="240"/><use id="k45_4" href="#Or" x="292"/><use id="k45_5" href="#Or" x="344"/><use id="k45_6" href="#Br" x="396"/><use id="k45_7" href="#Or" x="448"/><use id="k45_8" href="#Pr" x="500"/><use id="k45_9" href="#Pr" x="552"/><use id="k45_10" href="#Pr" x="604"/></g>
<g id="row46" transform="translate(0,2402)"><use id="k46_0" href="#Pl" x="84"/><use id="k46_1" href="#Pl" x="136"/><use id="k46_2" href="#Ol" x="188"/><use id="k46_3" href="#Ol" x="240"/><use id="k46_4" href="#Ol" x="292"/><use id="k46_5" href="#Ol" x="344"/><use id="k46_6" href="#Ol" x="396"/><use id="k46_7" href="#Ol" x="448"/><use id="k46_8" href="#Pl" x="500"/><use id="k46_9" href="#Pl" x="552"/><use id="k46_10" href="#Pl" x="604"/></g>
<g id="row47" transform="translate(0,2454)"><use id="k47_0" href="#Pr" x="84"/><use id="k47_1" href="#Pr" x="136"/><use id="k47_2" href="#Pr" x="188"/><use id="k47_3" href="#Or" x="240"/><use id="k47_4" href="#Br" x="292"/><use id="k47_5" href="#Br" x="344"/><use id="k47_6" href="#Or" x="396"/><use id="k47_7" href="#Dr" x="448"/><use id="k47_8" href="#Dr" x="500"/><use id="k47_9" href="#Pr" x="552"/><use id="k47_10" href="#Pr" x="604"/></g>
<g id="row48" transform="translate(0,2506)"><use id="k48_0" href="#Pl" x="84"/><use id="k48_1" href="#Pl" x="136"/><use id="k48_2" href="#Ol" x="188"/><use id="k48_3" href="#Ol" x="240"/><use id="k48_4" href="#Ol" x="292"/><use id="k48_5" href="#Ol" x="344"/><use id="k48_6" href="#Ol" x="396"/><use id="k48_7" href="#Ol" x="448"/><use id="k48_8" href="#Pl" x="500"/><use id="k48_9" href="#Pl" x="552"/><use id="k48_10" href="#Pl" x="604"/></g>
<g id="row49" transform="translate(0,2558)"><use id="k49_0" href="#Pr" x="84"/><use id="k49_1" href="#Pr" x="136"/><use id="k49_2" href="#Or" x="188"/><use id="k49_3" href="#Br" x="240"/><use id="k49_4" href="#Or" x="292"/><use id="k49_5" href="#Or" x="344"/><use id="k49_6" href="#Br" x="396"/><use id="k49_7" href="#Or" x="448"/><use id="k49_8" href="#Pr" x="500"/><use id="k49_9" href="#Pr" x="552"/><use id="k49_10" href="#Pr" x="604"/></g>
<g id="row50" transform="translate(0,2610)"><use id="k50_0" href="#Pl" x="84"/><use id="k50_1" href="#Pl" x="136"/><use id="k50_2" href="#Pl" x="188"/><use id="k50_3" href="#Ol" x="240"/><use id="k50_4" href="#Bl" x="292"/><use id="k50_5" href="#Bl" x="344"/><use id="k50_6" href="#Ol" x="396"/><use id="k50_7" href="#Pl" x="448"/><use id="k50_8" href="#Pl" x="500"/><use id="k50_9" href="#Pl" x="552"/><use id="k50_10" href="#Pl" x="604"/></g>
<g id="row51" transform="translate(0,2662)"><use id="k51_0" href="#Pr" x="84"/><use id="k51_1" href="#Pr" x="136"/><use id="k51_2" href="#Pr" x="188"/><use id="k51_3" href="#Pr" x="240"/><use id="k51_4" href="#Or" x="292"/><use id="k51_5" href="#Or" x="344"/><use id="k51_6" href="#Pr" x="396"/><use id="k51_7" href="#Pr" x="448"/><use id="k51_8" href="#Pr" x="500"/><use id="k51_9" href="#Pr" x="552"/><use id="k51_10" href="#Pr" x="604"/></g>
<g id="row52" transform="translate(0,2714)"><use id="k52_0" href="#Pl" x="84"/><use id="k52_1" href="#Pl" x="136"/><use id="k52_2" href="#Pl" x="188"/><use id="k52_3" href="#Pl" x="240"/><use id="k52_4" href="#Pl" x="292"/><use id="k52_5" href="#Pl" x="344"/><use id="k52_6" href="#Pl" x="396"/><use id="k52_7" href="#Pl" x="448"/><use id="k52_8" href="#Pl" x="500"/><use id="k52_9" href="#Pl" x="552"/><use id="k52_10" href="#Pl" x="604"/></g>
<g id="row53" transform="translate(0,2766)"><use id="k53_0" href="#Pr" x="84"/><use id="k53_1" href="#Pr" x="136"/><use id="k53_2" href="#Pr" x="188"/><use id="k53_3" href="#Pr" x="240"/><use id="k53_4" href="#Wr" x="292"/><use id="k53_5" href="#Wr" x="344"/><use id="k53_6" href="#Wr" x="396"/><use id="k53_7" href="#Wr" x="448"/><use id="k53_8" href="#Pr" x="500"/><use id="k53_9" href="#Pr" x="552"/><use id="k53_10" href="#Pr" x="604"/></g>
<g id="row54" transform="translate(0,2818)"><use id="k54_0" href="#Pl" x="84"/><use id="k54_1" href="#Pl" x="136"/><use id="k54_2" href="#Pl" x="188"/><use id="k54_3" href="#Wl" x="240"/><use id="k54_4" href="#Wl" x="292"/><use id="k54_5" href="#Wl" x="344"/><use id="k54_6" href="#Gl" x="396"/><use id="k54_7" href="#Wl" x="448"/><use id="k54_8" href="#Wl" x="500"/><use id="k54_9" href="#Pl" x="552"/><use id="k54_10" href="#Pl" x="604"/></g>
<g id="row55" transform="translate(0,2870)"><use id="k55_0" href="#Pr" x="84"/><use id="k55_1" href="#Pr" x="136"/><use id="k55_2" href="#Wr" x="188"/><use id="k55_3" href="#Wr" x="240"/><use id="k55_4" href="#Wr" x="292"/><use id="k55_5" href="#Wr" x="344"/><use id="k55_6" href="#Wr" x="396"/><use id="k55_7" href="#Wr" x="448"/><use id="k55_8" href="#Wr" x="500"/><use id="k55_9" href="#Pr" x="552"/><use id="k55_10" href="#Pr" x="604"/></g>
<g id="row56" transform="translate(0,2922)"><use id="k56_0" href="#Pl" x="84"/><use id="k56_1" href="#Pl" x="136"/><use id="k56_2" href="#Wl" x="188"/><use id="k56_3" href="#Wl" x="240"/><use id="k56_4" href="#Wl" x="292"/><use id="k56_5" href="#Wl" x="344"/><use id="k56_6" href="#Gl" x="396"/><use id="k56_7" href="#Wl" x="448"/><use id="k56_8" href="#Wl" x="500"/><use id="k56_9" href="#Pl" x="552"/><use id="k56_10" href="#Pl" x="604"/></g>
<g id="row57" transform="translate(0,2974)"><use id="k57_0" href="#Pr" x="84"/><use id="k57_1" href="#Pr" x="136"/><use id="k57_2" href="#Wr" x="188"/><use id="k57_3" href="#Wr" x="240"/><use id="k57_4" href="#Wr" x="292"/><use id="k57_5" href="#Wr" x="344"/><use id="k57_6" href="#Wr" x="396"/><use id="k57_7" href="#Wr" x="448"/><use id="k57_8" href="#Pr" x="500"/><use id="k57_9" href="#Pr" x="552"/><use id="k57_10" href="#Pr" x="604"/></g>
<g id="row58" transform="translate(0,3026)"><use id="k58_0" href="#Pl" x="84"/><use id="k58_1" href="#Pl" x="136"/><use id="k58_2" href="#Pl" x="188"/><use id="k58_3" href="#Wl" x="240"/><use id="k58_4" href="#Pl" x="292"/><use id="k58_5" href="#Pl" x="344"/><use id="k58_6" href="#Pl" x="396"/><use id="k58_7" href="#Pl" x="448"/><use id="k58_8" href="#Pl" x="500"/><use id="k58_9" href="#Pl" x="552"/><use id="k58_10" href="#Pl" x="604"/></g>
<g id="row59" transform="translate(0,3078)"><use id="k59_0" href="#Pr" x="84"/><use id="k59_1" href="#Pr" x="136"/><use id="k59_2" href="#Pr" x="188"/><use id="k59_3" href="#Pr" x="240"/><use id="k59_4" href="#Pr" x="292"/><use id="k59_5" href="#Pr" x="344"/><use id="k59_6" href="#Pr" x="396"/><use id="k59_7" href="#Pr" x="448"/><use id="k59_8" href="#Pr" x="500"/><use id="k59_9" href="#Pr" x="552"/><use id="k59_10" href="#Pr" x="604"/></g>
</g>
<text x="344.5" y="1601.5" text-anchor="middle" font-family="Liberation Sans, Arial, sans-serif" font-weight="bold" font-size="15" textLength="155" lengthAdjust="spacingAndGlyphs" fill="#3d3d3d" stroke="#fff" stroke-width="3" paint-order="stroke">BRACELETBOOK.COM</text>
</svg>
